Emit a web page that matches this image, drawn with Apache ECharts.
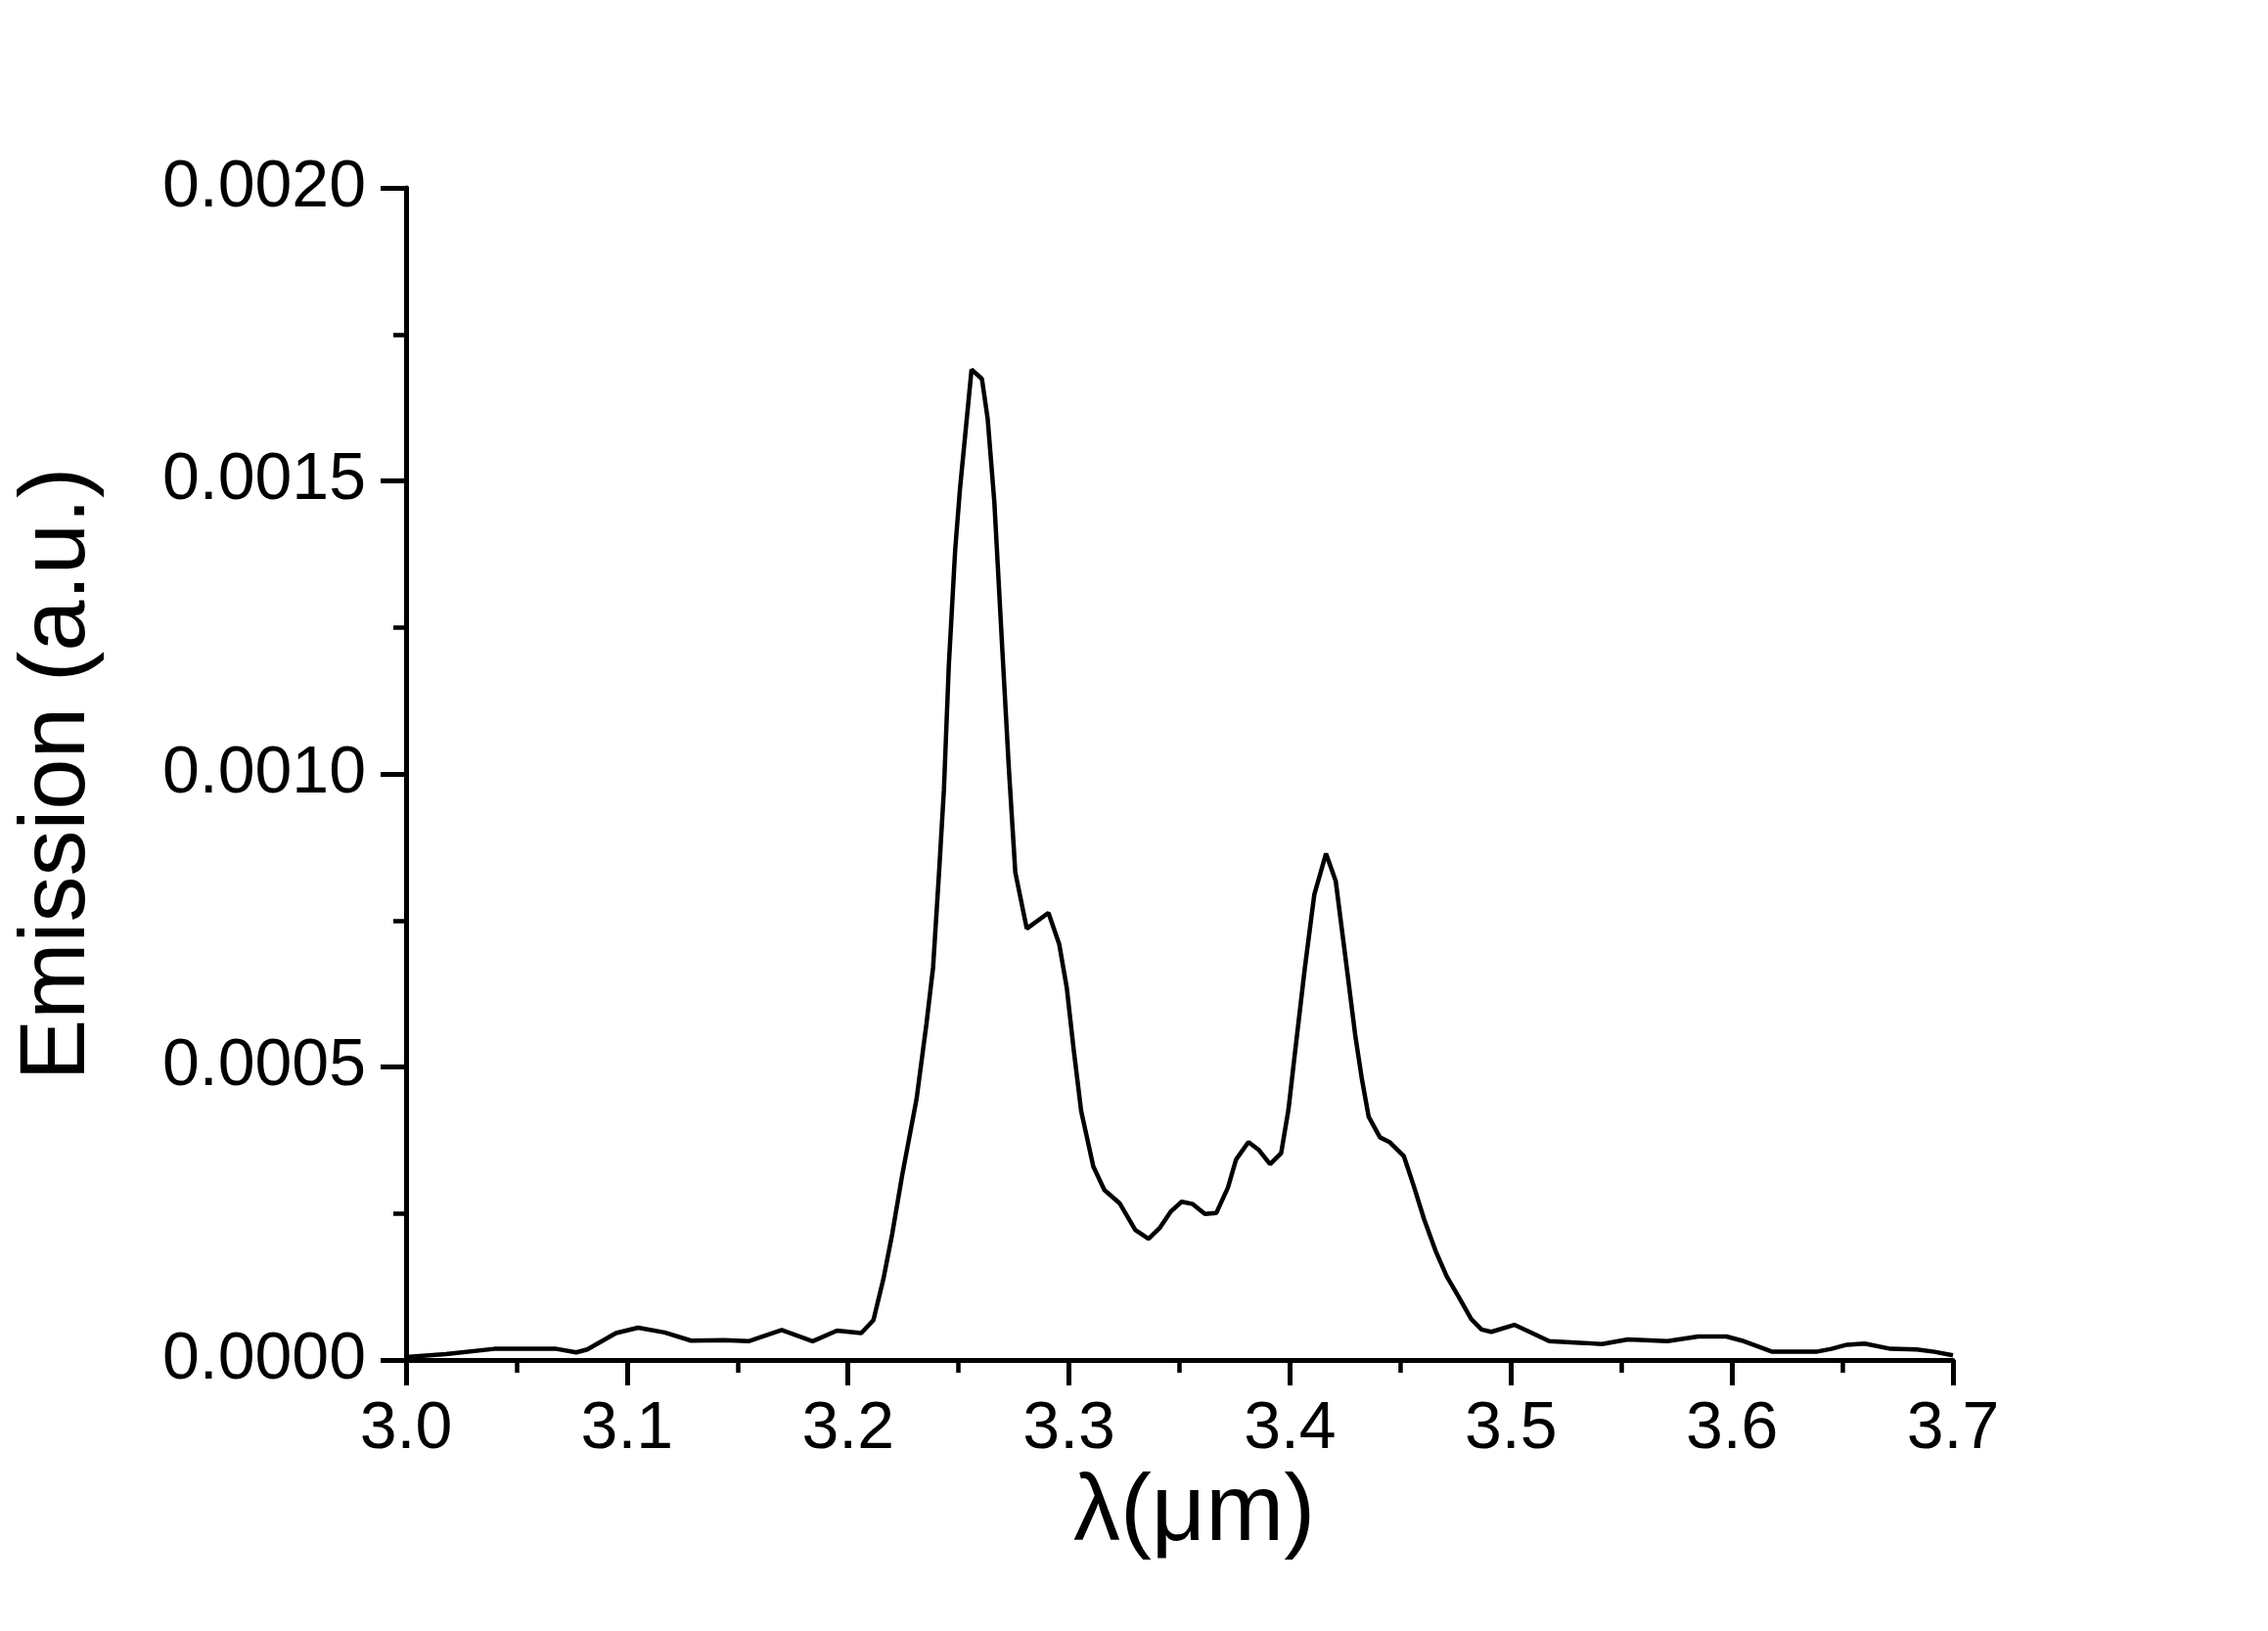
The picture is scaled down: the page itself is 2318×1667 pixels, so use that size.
<!DOCTYPE html>
<html>
<head>
<meta charset="utf-8">
<title>Emission spectrum</title>
<script src="https://cdn.jsdelivr.net/npm/echarts@6/dist/echarts.min.js"></script>
<style>
html, body {
    margin: 0;
    padding: 0;
    background: #fff;
}
#chart {
    width: 2318px;
    height: 1667px;
}
</style>
</head>
<body>
<div id="chart"></div>
<script>
// wavelength (um)
const wavelength = [
    3.000, 3.018, 3.040, 3.068, 3.077, 3.082, 3.095, 3.105, 3.117, 3.129,
    3.144, 3.155, 3.170, 3.184, 3.195, 3.206, 3.2115, 3.216, 3.220, 3.2245,
    3.231, 3.2355, 3.2385, 3.2412, 3.2434, 3.2456, 3.2485, 3.2507, 3.2559, 3.2606,
    3.2632, 3.2662, 3.2699, 3.2728, 3.2757, 3.2809, 3.2907, 3.2956, 3.2990, 3.3022,
    3.3055, 3.311, 3.316, 3.323, 3.330, 3.336, 3.341, 3.346, 3.351, 3.356,
    3.3615, 3.3667, 3.3719, 3.3756, 3.3812, 3.386, 3.391, 3.396, 3.3993, 3.402,
    3.4067, 3.411, 3.4163, 3.4207, 3.425, 3.4295, 3.4325, 3.4356, 3.4407, 3.445,
    3.4515, 3.456, 3.4607, 3.4659, 3.471, 3.4763, 3.482, 3.4867, 3.4911, 3.5015,
    3.5084, 3.5173, 3.5332, 3.5411, 3.553, 3.5708, 3.5847, 3.5975, 3.6045, 3.6183,
    3.6381, 3.645, 3.652, 3.660, 3.6718, 3.6836, 3.6916, 3.700
]
// emission (a.u.)
const emission = [
    0.000005, 0.000010, 0.000019, 0.000019, 0.000013, 0.000018, 0.000046, 0.000055, 0.000047, 0.000033,
    0.000034, 0.000032, 0.000051, 0.000032, 0.000050, 0.000046, 0.000068, 0.000138, 0.000215, 0.000315,
    0.000445, 0.000574, 0.000670, 0.000832, 0.000973, 0.001184, 0.001383, 0.001488, 0.001690, 0.001674,
    0.001606, 0.001465, 0.001207, 0.001008, 0.000832, 0.000736, 0.000763, 0.000709, 0.000635, 0.000527,
    0.000425, 0.000330, 0.000290, 0.000267, 0.000222, 0.000207, 0.000225, 0.000253, 0.000270, 0.000266,
    0.000249, 0.000251, 0.000294, 0.000342, 0.000372, 0.000358, 0.000334, 0.000353, 0.000427, 0.000516,
    0.000668, 0.000794, 0.000864, 0.000817, 0.000690, 0.000555, 0.000480, 0.000415, 0.000380, 0.000372,
    0.000348, 0.000297, 0.000240, 0.000186, 0.000142, 0.000108, 0.000070, 0.000052, 0.000048, 0.000060,
    0.000048, 0.000032, 0.000029, 0.000027, 0.000035, 0.000032, 0.000040, 0.000040, 0.000033, 0.000014,
    0.000014, 0.000019, 0.000026, 0.000028, 0.000019, 0.000018, 0.000014, 0.000008
]

const xTicks = { min: 3.0, max: 3.7, step: 0.1 }
const yTicks = { min: 0, max: 0.002, step: 0.0005 }

const font = '"Liberation Sans", Arial, sans-serif'

const chart = echarts.init(document.getElementById('chart'))

const axisCommon = {
    axisLine: { show: true, lineStyle: { color: '#000', width: 5 } },
    axisTick: { show: true, inside: false, length: 26, lineStyle: { color: '#000', width: 5 } },
    minorTick: { show: true, splitNumber: 2, length: 13, lineStyle: { color: '#000', width: 4.5 } },
    splitLine: { show: false },
    minorSplitLine: { show: false },
    nameTextStyle: { color: '#000', fontSize: 94, fontFamily: font }
}

const option = {
    animation: false,
    backgroundColor: '#fff',
    grid: {
        left: 415,
        right: 322,
        top: 192,
        bottom: 277,
        containLabel: false
    },
    xAxis: Object.assign({}, axisCommon, {
        type: 'value',
        min: xTicks.min,
        max: xTicks.max,
        interval: xTicks.step,
        name: 'λ(μm)',
        nameLocation: 'middle',
        nameGap: 100,
        nameTextStyle: {
            color: '#000',
            fontSize: 96,
            fontFamily: font,
            padding: [0, 0, 0, 30]
        },
        axisLabel: {
            color: '#000',
            fontSize: 68,
            fontFamily: font,
            margin: 37,
            formatter: v => v.toFixed(1)
        }
    }),
    yAxis: Object.assign({}, axisCommon, {
        type: 'value',
        min: yTicks.min,
        max: yTicks.max,
        interval: yTicks.step,
        name: 'Emission (a.u.)',
        nameLocation: 'middle',
        nameGap: 308,
        axisLabel: {
            color: '#000',
            fontSize: 68,
            fontFamily: font,
            margin: 41,
            formatter: v => v.toFixed(4)
        }
    }),
    series: [
        {
            type: 'line',
            data: wavelength.map((x, i) => [x, emission[i]]),
            showSymbol: false,
            smooth: false,
            lineStyle: { color: '#000', width: 4.5 }
        }
    ]
}

chart.setOption(option)
</script>
</body>
</html>
